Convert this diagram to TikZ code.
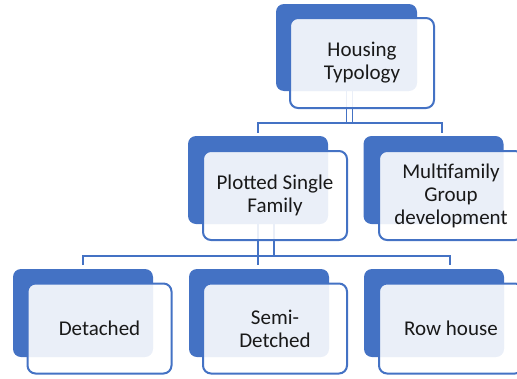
\documentclass[tikz,border=0pt]{standalone}
\usepackage{fontspec}
\setmainfont{Carlito}
\usetikzlibrary{calc}
\definecolor{sablue}{HTML}{4472C4}
\tikzset{
  backbox/.style={draw=none, fill=sablue, rounded corners=8pt, inner sep=0pt, outer sep=0pt, minimum width=140pt, minimum height=88pt},
  frontbox/.style={draw=sablue, line width=2pt, fill=white, fill opacity=0.89, text opacity=1, rounded corners=8pt, inner sep=0pt, outer sep=0pt, minimum width=144pt, minimum height=90pt, align=center, font=\fontsize{21}{23}\selectfont, text=black!90},
  conn/.style={draw=sablue, line width=1.6pt}
}
\begin{document}
\begin{tikzpicture}[x=1pt,y=-1pt]
\useasboundingbox (0,0) rectangle (517,378);
\clip (0,0) rectangle (517,378);
% back boxes
\node[backbox, minimum width=141pt, minimum height=87pt] (topB) at (346.5,47.5) {};
\node[backbox] (plotB) at (258,180) {};
\node[backbox] (multiB) at (433.5,180) {};
\node[backbox] (detB) at (83,313) {};
\node[backbox] (semiB) at (259,313) {};
\node[backbox] (rowB) at (434,313) {};
% bus coordinates
\coordinate (bus1) at (0,123);
\coordinate (bus2) at (0,256);
\coordinate (d1) at (442,133);
\coordinate (d2) at (258,133);
\coordinate (e1) at (83,265);
\coordinate (e2) at (258,265);
\coordinate (e3) at (450,265);
% connectors top -> middle
\draw[conn] (topB.south) -- (topB.south |- bus1);
\draw[conn] ([xshift=6pt]topB.south) -- ([xshift=6pt]topB.south |- bus1);
\draw[conn] (d2) -- (d2 |- bus1) -- (d1 |- bus1) -- (d1);
% connectors middle -> bottom
\draw[conn] (plotB.south) -- (e2);
\draw[conn] ([xshift=16pt]plotB.south) -- ([xshift=16pt]plotB.south |- bus2);
\draw[conn] (e1) -- (e1 |- bus2) -- (e3 |- bus2) -- (e3);
% front boxes
\node[frontbox] (top) at (362,63) {Housing\\Typology};
\node[frontbox, minimum height=89pt] (plot) at (275,195.5) {Plotted Single\\Family};
\node[frontbox, minimum height=89pt] (multi) at (451,195.5) {Multifamily\\Group\\development};
\node[frontbox] (det) at (99.5,328.5) {Detached};
\node[frontbox] (semi) at (275,328.5) {Semi-\\Detched};
\node[frontbox] (row) at (451,328.5) {Row house};
\end{tikzpicture}
\end{document}
